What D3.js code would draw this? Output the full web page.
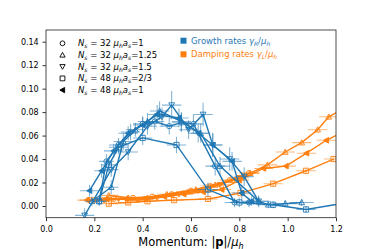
<!DOCTYPE html>
<html lang="en">
<head>
  <meta charset="UTF-8">
  <title>Growth and damping rates</title>
  <script src="https://d3js.org/d3.v7.min.js"></script>
  <style>
    body { margin: 0; background: #fff; }
    svg { font-family: "DejaVu Sans", sans-serif; }
  </style>
</head>
<body>
<script>
// each point: [momentum, rate, xerr, yerr]
const growthN32a1 = [[0.22,0.004,0.03,0.004],[0.25,0.038,0.03,0.006],[0.30,0.052,0.04,0.006],[0.35,0.063,0.04,0.007],[0.40,0.070,0.04,0.006],[0.45,0.072,0.04,0.007],[0.51,0.068,0.04,0.007],[0.56,0.071,0.04,0.008],[0.61,0.070,0.04,0.008],[0.70,0.034,0.04,0.008],[0.78,0.003,0.04,0.004],[0.84,0.003,0.04,0.004]];
const growthN32a125 = [[0.19,0.004,0.03,0.004],[0.27,0.016,0.03,0.006],[0.32,0.055,0.04,0.007],[0.37,0.065,0.04,0.006],[0.42,0.072,0.04,0.007],[0.47,0.081,0.04,0.008],[0.56,0.072,0.04,0.008],[0.64,0.062,0.04,0.008],[0.72,0.034,0.04,0.008],[0.88,0.004,0.05,0.004],[0.92,0.001,0.05,0.003],[0.99,0.002,0.05,0.003],[1.058,0.003,0.05,0.003]];
const growthN32a15 = [[0.16,-0.008,0.04,0.006],[0.27,0.031,0.03,0.006],[0.34,0.046,0.04,0.007],[0.42,0.068,0.04,0.007],[0.48,0.076,0.04,0.008],[0.52,0.086,0.04,0.012],[0.59,0.065,0.04,0.008],[0.65,0.078,0.04,0.010],[0.69,0.052,0.04,0.010],[0.76,0.040,0.04,0.010],[0.82,0.025,0.04,0.008],[0.88,0.004,0.04,0.005]];
const growthN48a23 = [[0.22,0.004,0.03,0.003],[0.26,0.035,0.03,0.006],[0.30,0.050,0.04,0.006],[0.40,0.058,0.04,0.006],[0.54,0.052,0.04,0.007],[0.67,0.014,0.04,0.006],[0.80,0.003,0.04,0.004],[0.94,0.001,0.04,0.003],[1.076,-0.003,0.04,0.003],[1.25,0.003,0.04,0.003]];
const growthN48a1 = [[0.18,0.013,0.04,0.005],[0.23,0.030,0.03,0.006],[0.28,0.047,0.04,0.006],[0.34,0.062,0.04,0.006],[0.40,0.069,0.04,0.007],[0.46,0.078,0.04,0.008],[0.55,0.075,0.04,0.008],[0.63,0.062,0.04,0.008],[0.69,0.052,0.04,0.010],[0.77,0.038,0.04,0.008],[0.81,0.011,0.04,0.006],[0.85,0.004,0.04,0.004]];

const dampingN32a1 = [[0.20,0.005,0.04,0.002],[0.28,0.006,0.04,0.002],[0.36,0.007,0.04,0.002],[0.44,0.008,0.04,0.002],[0.52,0.010,0.04,0.002],[0.60,0.013,0.04,0.002],[0.68,0.017,0.04,0.002],[0.76,0.022,0.04,0.002],[0.84,0.028,0.04,0.002]];
const dampingN32a125 = [[0.26,0.009,0.04,0.002],[0.34,0.007,0.04,0.002],[0.42,0.007,0.04,0.002],[0.50,0.010,0.04,0.002],[0.62,0.014,0.04,0.002],[0.70,0.018,0.04,0.002],[0.78,0.022,0.04,0.002],[0.845,0.028,0.04,0.002],[0.916,0.035,0.04,0.002],[0.99,0.046,0.04,0.002],[1.058,0.054,0.04,0.002],[1.124,0.065,0.04,0.002],[1.17,0.076,0.04,0.002],[1.24,0.084,0.04,0.002]];
const dampingN32a15 = [[0.18,0.005,0.04,0.002],[0.24,0.005,0.04,0.002],[0.30,0.006,0.04,0.002],[0.38,0.005,0.04,0.002],[0.46,0.007,0.04,0.002],[0.55,0.010,0.04,0.002],[0.63,0.013,0.04,0.002],[0.72,0.018,0.04,0.002],[0.80,0.024,0.04,0.002]];
const dampingN48a23 = [[0.26,0.002,0.04,0.002],[0.34,0.003,0.04,0.002],[0.42,0.004,0.04,0.002],[0.53,0.005,0.04,0.002],[0.67,0.006,0.04,0.002],[0.805,0.011,0.04,0.002],[0.94,0.019,0.04,0.002],[1.076,0.030,0.04,0.002],[1.19,0.040,0.04,0.002]];
const dampingN48a1 = [[0.17,0.005,0.04,0.002],[0.25,0.006,0.04,0.002],[0.33,0.006,0.04,0.002],[0.41,0.006,0.04,0.002],[0.49,0.008,0.04,0.002],[0.57,0.010,0.04,0.002],[0.65,0.012,0.04,0.002],[0.727,0.014,0.04,0.002],[0.80,0.022,0.04,0.002],[0.90,0.032,0.04,0.002],[0.993,0.034,0.04,0.002],[1.078,0.045,0.04,0.002],[1.16,0.056,0.04,0.002],[1.24,0.064,0.04,0.002]];

const markers = ["circle", "up", "down", "square", "left"];
const runLabels = ["32|1", "32|1.25", "32|1.5", "48|2/3", "48|1"];
const xTicks = [0.0, 0.2, 0.4, 0.6, 0.8, 1.0, 1.2];
const yTicks = [0.00, 0.02, 0.04, 0.06, 0.08, 0.10, 0.12, 0.14];

const blue = "#1f77b4", orange = "#ff7f0e";
const growth = [growthN32a1, growthN32a125, growthN32a15, growthN48a23, growthN48a1];
const damping = [dampingN32a1, dampingN32a125, dampingN32a15, dampingN48a23, dampingN48a1];

const width = 374, height = 249;
const x = d3.scaleLinear().domain([0, 1.2]).range([46, 336]);
const y = d3.scaleLinear().domain([-0.01, 0.15]).range([217.7, 30]);

const svg = d3.select("body").append("svg")
    .attr("width", width)
    .attr("height", height);

svg.append("clipPath").attr("id", "plot")
  .append("rect")
    .attr("x", 46).attr("y", 30)
    .attr("width", 290).attr("height", 187.7);

function markerPath(type, r) {
  const t = r * 1.1;
  if (type === "circle") return d3.symbol(d3.symbolCircle, Math.PI * r * r)();
  if (type === "square") return `M${-r},${-r}H${r}V${r}H${-r}Z`;
  if (type === "up") return `M0,${-t}L${t},${t * 0.8}L${-t},${t * 0.8}Z`;
  if (type === "down") return `M0,${t}L${t},${-t * 0.8}L${-t},${-t * 0.8}Z`;
  if (type === "left") return `M${-t},0L${t * 0.8},${-t}L${t * 0.8},${t}Z`;
}

const plot = svg.append("g").attr("clip-path", "url(#plot)");
const line = d3.line().x(d => x(d[0])).y(d => y(d[1]));

function drawSeries(data, color, type) {
  const g = plot.append("g");
  // error bars
  g.append("g")
      .attr("stroke", color)
      .attr("stroke-opacity", 0.55)
      .attr("stroke-width", 1.1)
    .selectAll("path")
    .data(data)
    .join("path")
      .attr("d", d => `M${x(d[0] - d[2])},${y(d[1])}H${x(d[0] + d[2])}M${x(d[0])},${y(d[1] - d[3])}V${y(d[1] + d[3])}`);
  g.append("path")
      .attr("d", line(data))
      .attr("fill", "none")
      .attr("stroke", color)
      .attr("stroke-width", 1.4);
  g.selectAll(".m")
    .data(data)
    .join("path")
      .attr("transform", d => `translate(${x(d[0])},${y(d[1])})`)
      .attr("d", markerPath(type, 2.6))
      .attr("fill", type === "left" ? color : "none")
      .attr("stroke", color)
      .attr("stroke-width", 0.9);
}

damping.forEach((s, i) => drawSeries(s, orange, markers[i]));
growth.forEach((s, i) => drawSeries(s, blue, markers[i]));

// axes
const xAxis = svg.append("g")
    .attr("transform", "translate(0,217.7)")
    .call(d3.axisBottom(x).tickValues(xTicks).tickFormat(d3.format(".1f")).tickSize(3.5).tickSizeOuter(0));
const yAxis = svg.append("g")
    .attr("transform", "translate(46,0)")
    .call(d3.axisLeft(y).tickValues(yTicks).tickFormat(d3.format(".2f")).tickSize(3.5).tickSizeOuter(0));
[xAxis, yAxis].forEach(a => {
  a.select(".domain").remove();
  a.selectAll("text").attr("font-size", 8).attr("font-family", "DejaVu Sans").attr("fill", "#000");
  a.selectAll("line").attr("stroke", "#000").attr("stroke-width", 0.8);
});
xAxis.selectAll("text").attr("dy", "0.95em");
yAxis.selectAll("text").attr("dx", "-0.1em");

svg.append("rect")
    .attr("x", 46).attr("y", 30)
    .attr("width", 290).attr("height", 187.7)
    .attr("fill", "none")
    .attr("stroke", "#222")
    .attr("stroke-width", 0.8);

// x label
const xl = svg.append("text")
    .attr("x", 191).attr("y", 246)
    .attr("text-anchor", "middle")
    .attr("font-size", 11.5);
xl.append("tspan").text("Momentum: |");
xl.append("tspan").attr("font-weight", "bold").text("p");
xl.append("tspan").text("|/");
xl.append("tspan").attr("font-style", "italic").text("μ");
xl.append("tspan").attr("font-style", "italic").attr("font-size", 8).attr("dy", 2.5).text("h");

// marker legend
const leg = svg.append("g").attr("font-size", 8.5);
runLabels.forEach((lab, i) => {
  const [ns, as] = lab.split("|");
  const ly = 43.3 + i * 11.7;
  leg.append("path")
      .attr("transform", `translate(62.5,${ly})`)
      .attr("d", markerPath(markers[i], 2.4))
      .attr("fill", markers[i] === "left" ? "#000" : "none")
      .attr("stroke", "#000")
      .attr("stroke-width", 0.9);
  const t = leg.append("text").attr("x", 78).attr("y", ly + 3);
  t.append("tspan").attr("font-style", "italic").text("N");
  t.append("tspan").attr("font-style", "italic").attr("font-size", 6).attr("dy", 2).text("s");
  t.append("tspan").attr("dy", -2).text(` = ${ns} `);
  t.append("tspan").attr("font-style", "italic").text("μ");
  t.append("tspan").attr("font-style", "italic").attr("font-size", 6).attr("dy", 2).text("h");
  t.append("tspan").attr("font-style", "italic").attr("dy", -2).text("a");
  t.append("tspan").attr("font-style", "italic").attr("font-size", 6).attr("dy", 2).text("s");
  t.append("tspan").attr("dy", -2).text(`=${as}`);
});

// colour legend
const legendRates = [["Growth rates ", "γ", "R", blue], ["Damping rates ", "γ", "L", orange]];
legendRates.forEach(([name, g, sub, c], i) => {
  const ly = 40.7 + i * 13.6;
  leg.append("rect")
      .attr("x", 180.5).attr("y", ly - 3)
      .attr("width", 6).attr("height", 6)
      .attr("fill", c);
  const t = leg.append("text").attr("x", 191).attr("y", ly + 3).attr("fill", c);
  t.append("tspan").text(name);
  t.append("tspan").attr("font-style", "italic").text(g);
  t.append("tspan").attr("font-style", "italic").attr("font-size", 6).attr("dy", 2).text(sub);
  t.append("tspan").attr("dy", -2).text("/");
  t.append("tspan").attr("font-style", "italic").text("μ");
  t.append("tspan").attr("font-style", "italic").attr("font-size", 6).attr("dy", 2).text("h");
});
</script>
</body>
</html>
